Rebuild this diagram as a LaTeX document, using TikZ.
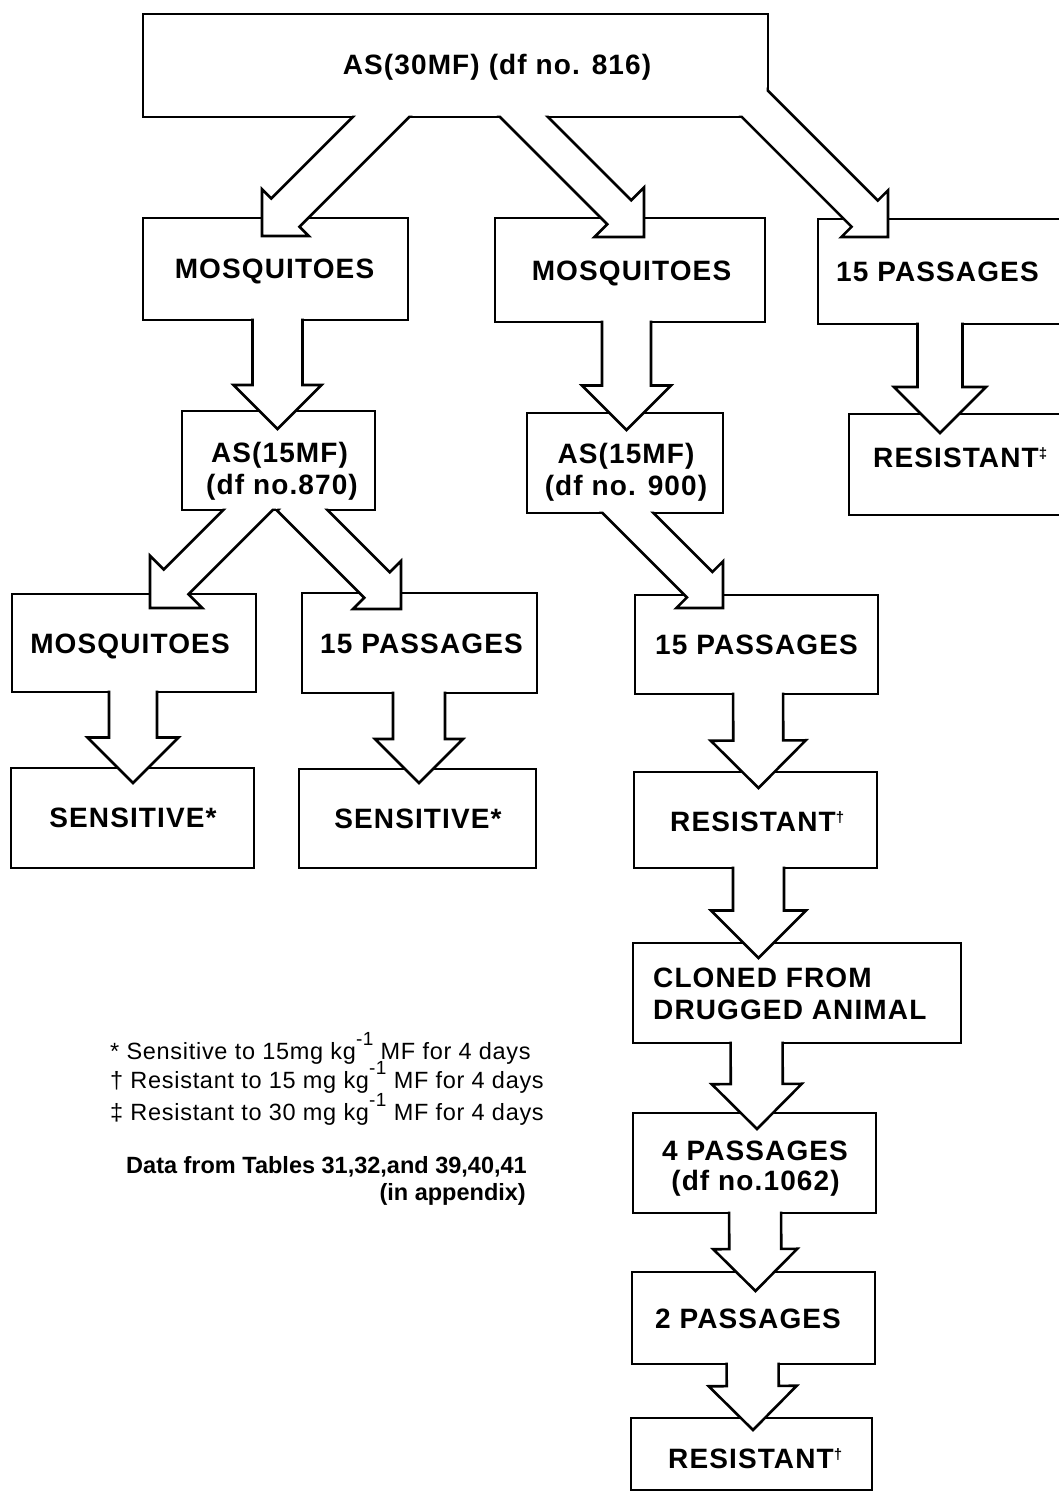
\documentclass[tikz,border=0pt]{standalone}
\usepackage{fontspec}
\setmainfont{Liberation Sans}
\newfontfamily\boxfont[LetterSpace=4]{Liberation Sans}
\newfontfamily\notefont[LetterSpace=3]{Liberation Sans}
\newfontfamily\sourcefont{Liberation Sans}
\usetikzlibrary{calc}

% raised exponent / footnote marks
\newcommand\powtext[1]{\raisebox{14pt}{\fontsize{19}{19}\selectfont #1}}
\newcommand\markup[1]{\raisebox{9pt}{\fontsize{15}{15}\selectfont #1}}

\tikzset{
  stage/.style={draw, line width=2.6pt, inner sep=0pt, outer sep=0pt},
  flow/.style={draw, line width=2.6pt, fill=white, line join=miter, miter limit=10},
  label/.style={inner sep=0pt, font=\boxfont\bfseries\fontsize{28}{32}\selectfont},
  note/.style={inner sep=0pt, font=\notefont\fontsize{23.5}{28}\selectfont},
  notebold/.style={inner sep=0pt, font=\sourcefont\bfseries\fontsize{23.5}{28}\selectfont},
}

% rectangle node from its corners (x1,y1)-(x2,y2)
\newcommand\stagebox[5]{%
  \node[stage, minimum width={#4-#2}, minimum height={#5-#3}] (#1)
    at ({(#2+#4)/2},{(#3+#5)/2}) {};}

% hollow block arrow with a right-angled head:
% #1 name, #2 source node, #3 point on the shaft axis inside the source,
% #4 tip, #5 shaft half-width, #6 head half-width
\newcommand\flowarrow[6]{%
  \coordinate (#1-back) at (#3);
  \coordinate (#1-tip) at (#4);
  \coordinate (#1-base) at ($(#1-tip)!#6!(#1-back)$);
  \begin{scope}[even odd rule]
    \clip (-50,-50) rectangle (1150,1550)
      ($(#2.north west)+(1.3pt,-1.3pt)$) rectangle ($(#2.south east)+(-1.3pt,1.3pt)$);
    \draw[flow] ($(#1-back)!#5!90:(#1-tip)$) -- ($(#1-base)!#5!90:(#1-tip)$)
      -- ($(#1-base)!#6!90:(#1-tip)$) -- (#1-tip)
      -- ($(#1-base)!#6!-90:(#1-tip)$) -- ($(#1-base)!#5!-90:(#1-tip)$)
      -- ($(#1-back)!#5!-90:(#1-tip)$) -- cycle;
  \end{scope}}

\begin{document}
\begin{tikzpicture}[x=1pt, y=-1pt]
\useasboundingbox (0,0) rectangle (1059,1492);
\fill[white] (0,0) rectangle (1059,1492);

% boxes
\stagebox{top}{143}{14}{768}{117}
\stagebox{mosqL}{143}{218}{408}{320}
\stagebox{mosqM}{495}{218}{765}{322}
\stagebox{passR}{818}{219}{1075}{324}
\stagebox{as870}{182}{411}{375}{510}
\stagebox{as900}{527}{413}{723}{513}
\stagebox{resR}{849}{414}{1075}{515}
\stagebox{mosqBL}{12}{594}{256}{692}
\stagebox{passBL}{302}{593}{537}{693}
\stagebox{passM}{635}{595}{878}{694}
\stagebox{sensL}{11}{768}{254}{868}
\stagebox{sensR}{299}{769}{536}{868}
\stagebox{resM}{634}{772}{877}{868}
\stagebox{cloned}{633}{943}{961}{1043}
\stagebox{pfour}{633}{1113}{876}{1213}
\stagebox{ptwo}{632}{1272}{875}{1364}
\stagebox{resB}{631}{1418}{872}{1490}

% diagonal arrows
\flowarrow{a1}{top}{$(top.south)+(-57.5,-17)$}{$(mosqL.north)+(-13.5,18)$}{20pt}{33pt}
\flowarrow{a2}{top}{$(top.south)+(51.5,-17)$}{$(mosqM.north)+(14,19)$}{17pt}{35pt}
\flowarrow{a3}{top}{$(top.south east)+(-37,-37)$}{$(passR.north west)+(70,18)$}{18.5pt}{33pt}
\flowarrow{a4}{as870}{$(as870.south)+(-8.5,-22)$}{$(mosqBL.north west)+(138,14)$}{17.5pt}{37pt}
\flowarrow{a5}{as870}{$(as870.south)+(11.5,-12)$}{$(passBL.north west)+(99,16)$}{18pt}{34pt}
\flowarrow{a6}{as900}{$(as900.south)+(-12,-15)$}{$(passM.north west)+(88,13)$}{18pt}{33pt}

% vertical arrows
\flowarrow{v1}{mosqL}{$(mosqL.south)+(2,-15)$}{$(as870.north)+(-1,18)$}{25pt}{44pt}
\flowarrow{v2}{mosqM}{$(mosqM.south)+(-3.5,-15)$}{$(as900.north)+(1.5,17)$}{24.5pt}{44.5pt}
\flowarrow{v3}{passR}{$(passR.south)+(-6.5,-15)$}{$(resR.north)+(-22,19)$}{22.5pt}{46pt}
\flowarrow{v4}{mosqBL}{$(mosqBL.south)+(-1,-15)$}{$(sensL.north)+(0.5,15)$}{24pt}{45.5pt}
\flowarrow{v5}{passBL}{$(passBL.south)+(-0.5,-15)$}{$(sensR.north)+(1.5,14)$}{26pt}{44pt}
\flowarrow{v6}{passM}{$(passM.south)+(1.5,-15)$}{$(resM.north)+(3,16)$}{25pt}{47.5pt}
\flowarrow{v7}{resM}{$(resM.south)+(3,-15)$}{$(cloned.north)+(-38.5,15)$}{25.5pt}{47.5pt}
\flowarrow{v8}{cloned}{$(cloned.south)+(-40.5,-15)$}{$(pfour.north)+(2.5,16)$}{26pt}{45pt}
\flowarrow{v9}{pfour}{$(pfour.south)+(0.5,-15)$}{$(ptwo.north)+(2,19)$}{26pt}{42pt}
\flowarrow{v10}{ptwo}{$(ptwo.south)+(-1,-15)$}{$(resB.north)+(1.5,12)$}{26pt}{44pt}

% box texts
\node[label, anchor=base] (t-top) at (497,74) {AS(30MF)\hspace{9pt}(df no. 816)};
\node[label, anchor=base] (t-mosqL) at (274.5,278) {MOSQUITOES};
\node[label, anchor=base] (t-mosqM) at (631.5,280) {MOSQUITOES};
\node[label, anchor=base west] (t-passR) at (836,281) {15 PASSAGES};
\node[label, anchor=base] (t-as870a) at (279.5,462) {AS(15MF)};
\node[label, anchor=base] (t-as870b) at (282,494) {(df no.870)};
\node[label, anchor=base] (t-as900a) at (626,463) {AS(15MF)};
\node[label, anchor=base] (t-as900b) at (626,495) {(df no. 900)};
\node[label, anchor=base west] (t-resR) at (873,467) {RESISTANT\markup{‡}};
\node[label, anchor=base] (t-mosqBL) at (130,653) {MOSQUITOES};
\node[label, anchor=base] (t-passBL) at (421.5,653) {15 PASSAGES};
\node[label, anchor=base] (t-passM) at (756.5,654) {15 PASSAGES};
\node[label, anchor=base] (t-sensL) at (133,827) {SENSITIVE*};
\node[label, anchor=base] (t-sensR) at (418,828) {SENSITIVE*};
\node[label, anchor=base west] (t-resM) at (670,831) {RESISTANT\markup{†}};
\node[label, anchor=base west] (t-clonedA) at (653,987) {CLONED FROM};
\node[label, anchor=base west] (t-clonedB) at (653,1019) {DRUGGED ANIMAL};
\node[label, anchor=base] (t-pfourA) at (755,1160) {4 PASSAGES};
\node[label, anchor=base] (t-pfourB) at (755.5,1190) {(df no.1062)};
\node[label, anchor=base] (t-ptwo) at (748,1328) {2 PASSAGES};
\node[label, anchor=base west] (t-resB) at (668,1468) {RESISTANT\markup{†}};

% key
\node[note, anchor=base west] (k1) at (110,1059) {* Sensitive to 15mg kg\powtext{-1} MF for 4 days};
\node[note, anchor=base west] (k2) at (110,1088) {† Resistant to 15 mg kg\powtext{-1} MF for 4 days};
\node[note, anchor=base west] (k3) at (110,1120) {‡ Resistant to 30 mg kg\powtext{-1} MF for 4 days};
\node[notebold, anchor=base east] (k4) at (527,1173) {Data from Tables 31,32,and 39,40,41};
\node[notebold, anchor=base east] (k5) at (526,1200) {(in appendix)};
\end{tikzpicture}
\end{document}
